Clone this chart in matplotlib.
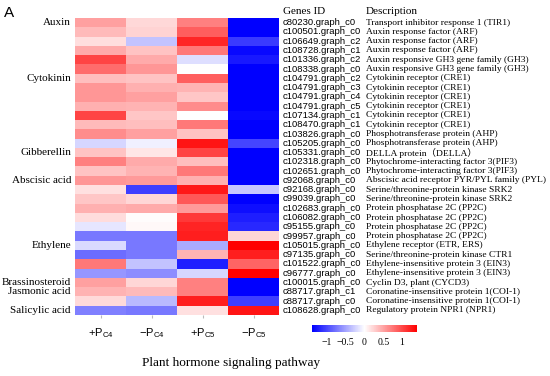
import matplotlib; matplotlib.use('Agg')
import matplotlib.pyplot as plt
import matplotlib.transforms as mtransforms
from matplotlib.colors import LinearSegmentedColormap
import numpy as np

plt.rcParams['mathtext.fontset'] = 'custom'
plt.rcParams['mathtext.rm'] = 'Liberation Sans'

columns = ['+P$_{\\mathrm{C4}}$', '\u2212P$_{\\mathrm{C4}}$', '+P$_{\\mathrm{C5}}$', '\u2212P$_{\\mathrm{C5}}$']

gene_ids = ['c80230.graph_c0', 'c100501.graph_c0', 'c106649.graph_c2', 'c108728.graph_c1',
            'c101336.graph_c2', 'c108338.graph_c0', 'c104791.graph_c2', 'c104791.graph_c3',
            'c104791.graph_c4', 'c104791.graph_c5', 'c107134.graph_c1', 'c108470.graph_c1',
            'c103826.graph_c0', 'c105205.graph_c0', 'c105331.graph_c0', 'c102318.graph_c0',
            'c102651.graph_c0', 'c92068.graph_c0', 'c92168.graph_c0', 'c99039.graph_c0',
            'c102683.graph_c0', 'c106082.graph_c0', 'c95155.graph_c0', 'c99957.graph_c0',
            'c105015.graph_c0', 'c97135.graph_c0', 'c101522.graph_c0', 'c96777.graph_c0',
            'c100015.graph_c0', 'c88717.graph_c1', 'c88717.graph_c0', 'c108628.graph_c0']

descriptions = ['Transport inhibitor response 1 (TIR1)', 'Auxin response factor (ARF)',
                'Auxin response factor (ARF)', 'Auxin response factor (ARF)',
                'Auxin responsive GH3 gene family (GH3)', 'Auxin responsive GH3 gene family (GH3)',
                'Cytokinin receptor (CRE1)', 'Cytokinin receptor (CRE1)', 'Cytokinin receptor (CRE1)',
                'Cytokinin receptor (CRE1)', 'Cytokinin receptor (CRE1)', 'Cytokinin receptor (CRE1)',
                'Phosphotransferase protein (AHP)', 'Phosphotransferase protein (AHP)',
                'DELLA protein\uff08DELLA\uff09', 'Phytochrome-interacting factor 3(PIF3)',
                'Phytochrome-interacting factor 3(PIF3)', 'Abscisic acid receptor PYR/PYL family (PYL)',
                'Serine/threonine-protein kinase SRK2', 'Serine/threonine-protein kinase SRK2',
                'Protein phosphatase 2C (PP2C)', 'Protein phosphatase 2C (PP2C)',
                'Protein phosphatase 2C (PP2C)', 'Protein phosphatase 2C (PP2C)',
                'Ethylene receptor (ETR, ERS)', 'Serine/threonine-protein kinase CTR1',
                'Ethylene-insensitive protein 3 (EIN3)', 'Ethylene-insensitive protein 3 (EIN3)',
                'Cyclin D3, plant (CYCD3)', 'Coronatine-insensitive protein 1(COI-1)',
                'Coronatine-insensitive protein 1(COI-1)', 'Regulatory protein NPR1 (NPR1)']

groups = ['Auxin', 'Cytokinin', 'Gibberellin', 'Abscisic acid', 'Ethylene',
          'Brassinosteroid', 'Jasmonic acid', 'Salicylic acid']
group_rows = [0, 6, 14, 17, 24, 28, 29, 31]

# expression values (+Pc4, -Pc4, +Pc5, -Pc5)
pc4_plus = [0.52, 0.38, 0.18, 0.46, 1.02, 0.80, 0.35, 0.57, 0.57, 0.43, 1.02, 0.38,
            0.63, -0.22, 0.32, 0.69, 0.32, 0.57, 0.17, 0.31, 0.43, 0.19, -0.14, -0.74,
            -0.20, -0.80, 0.74, -0.57, 0.52, 0.41, 0.20, -0.69]
pc4_minus = [0.21, 0.24, -0.32, 0.32, 0.46, 0.57, 0.32, 0.43, 0.52, 0.41, 0.31, 0.35,
             0.52, -0.08, 0.14, 0.46, 0.41, 0.55, -1.05, 0.22, 0.46, 0.02, 0.04, -0.74,
             -0.74, -0.74, -0.32, -0.63, 0.22, 0.38, -0.38, -0.74]
pc5_plus = [0.70, 0.88, 1.19, 0.74, -0.18, 0.0, 0.88, 0.41, 0.31, 0.63, 0.0, 0.74,
            0.32, 1.29, 1.02, 0.35, 0.74, 0.43, 1.26, 0.91, 0.55, 1.09, 1.20, 1.23,
            -0.46, 0.41, -1.23, -0.22, 0.69, 0.69, 1.23, 0.17]
pc5_minus = [-1.4, -1.4, -1.08, -1.35, -1.26, -1.4, -1.4, -1.4, -1.4, -1.4, -1.35, -1.4,
             -1.4, -1.02, -1.4, -1.4, -1.4, -1.4, -0.31, -1.4, -1.32, -1.23, -1.18, 0.22,
             1.4, 1.23, 0.85, 1.4, -1.4, -1.4, -1.06, 1.29]

cmap = LinearSegmentedColormap.from_list('bwr2', ['#0000ff', '#ffffff', '#ff0000'])
SERIF = ['Liberation Serif', 'Noto Sans CJK SC']

def main():
    data = np.column_stack([pc4_plus, pc4_minus, pc5_plus, pc5_minus])
    n = len(gene_ids)

    fig = plt.figure(figsize=(5.5, 3.76), dpi=100)
    W, H = 550.0, 376.0
    ax = fig.add_axes([75 / W, 1 - 315 / H, 204 / W, 297 / H])
    im = ax.imshow(data, cmap=cmap, vmin=-1.4, vmax=1.4, aspect='auto',
                   interpolation='nearest')
    ax.set_xlim(-0.5, 3.5); ax.set_ylim(n - 0.5, -0.5)
    ax.set_xticks(range(4))
    ax.set_xticklabels(columns, fontsize=8, family='Liberation Sans')
    ax.tick_params(axis='x', length=2, pad=6, color='#bbbbbb')
    ax.set_yticks([])
    for s in ax.spines.values():
        s.set_visible(False)

    tr = mtransforms.blended_transform_factory(fig.transFigure, ax.transData)
    for i in range(n):
        ax.text(283 / W, i, gene_ids[i], transform=tr, fontsize=6.8,
                family='Liberation Sans', va='center', ha='left')
        ax.text(366 / W, i, descriptions[i], transform=tr, fontsize=6.8,
                family=SERIF, va='center', ha='left')
    for g, r in zip(groups, group_rows):
        ax.text(71 / W, r, g, transform=tr, fontsize=8, family='Liberation Serif',
                va='center', ha='right')

    fig.text(283 / W, 1 - 11 / H, 'Genes ID', fontsize=8, family='Liberation Serif', va='center')
    fig.text(366 / W, 1 - 11 / H, 'Description', fontsize=8, family='Liberation Serif', va='center')
    fig.text(4 / W, 1 - 13 / H, 'A', fontsize=11, family='Liberation Sans', va='center')
    fig.text(231 / W, 1 - 363 / H, 'Plant hormone signaling pathway', fontsize=9.5,
             family='Liberation Serif', ha='center', va='center')

    cax = fig.add_axes([312 / W, 1 - 332 / H, 105 / W, 7 / H])
    cb = fig.colorbar(im, cax=cax, orientation='horizontal', ticks=[-1, -0.5, 0, 0.5, 1])
    cb.outline.set_visible(False)
    cb.ax.tick_params(length=0, pad=4)
    cb.ax.set_xticklabels(['\u22121', '\u22120.5', '0', '0.5', '1'], fontsize=7,
                          family='Liberation Serif')

    fig.savefig('out.png', dpi=100)
    plt.close()

if __name__ == '__main__':
    main()
